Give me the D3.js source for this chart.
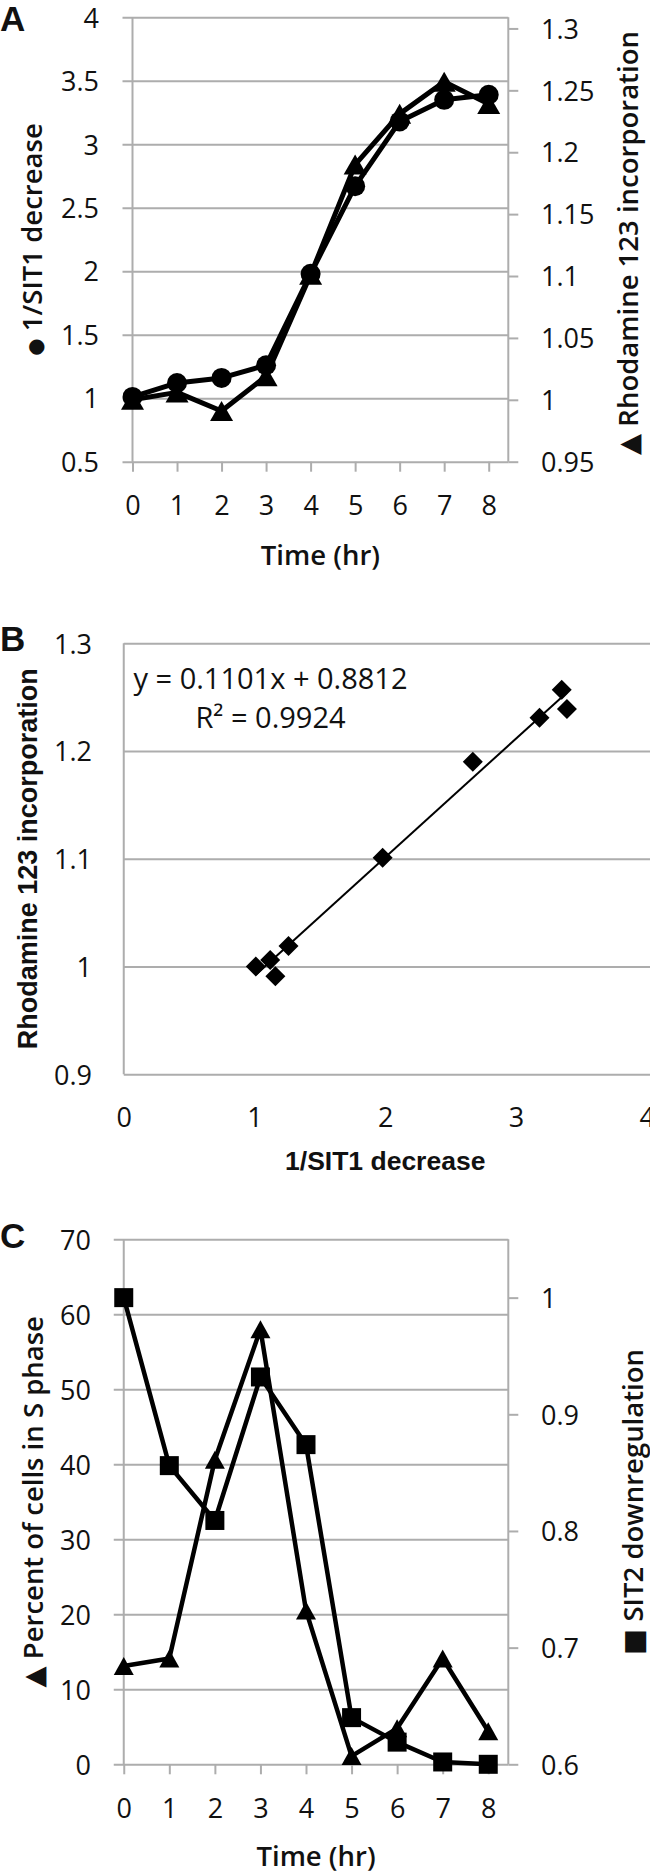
<!DOCTYPE html>
<html>
<head>
<meta charset="utf-8">
<script src="https://cdn.jsdelivr.net/npm/d3@7"></script>
<style>
  html, body { margin: 0; padding: 0; background: #fff; }
  svg { display: block; }
</style>
</head>
<body>
<svg id="chart" width="650" height="1873"></svg>
<script>
// ---------------- DATA ----------------
const times = [0, 1, 2, 3, 4, 5, 6, 7, 8];
const sit1Decrease = [1.01, 1.12, 1.16, 1.26, 1.98, 2.67, 3.18, 3.35, 3.39];   // panel A, circles (left axis)
const rhodamine    = [1.0, 1.006, 0.991, 1.019, 1.101, 1.19, 1.231, 1.257, 1.239]; // panel A, triangles (right axis)
const sPhasePercent = [13.1, 14.1, 40.6, 58, 20.5, 1.1, 4.8, 14.1, 4.4];      // panel C, triangles (left axis)
const sit2Down      = [1.0, 0.856, 0.809, 0.932, 0.874, 0.640, 0.619, 0.602, 0.600]; // panel C, squares (right axis)
const trendSlope = 0.1101;
const trendIntercept = 0.8812;
const trendR2 = 0.9924;

// tick labels
const aLeftTicks  = [0.5, 1, 1.5, 2, 2.5, 3, 3.5, 4];
const aRightTicks = [0.95, 1, 1.05, 1.1, 1.15, 1.2, 1.25, 1.3];
const bYTicks = [0.9, 1, 1.1, 1.2, 1.3];
const bXTicks = [0, 1, 2, 3, 4];
const cLeftTicks  = [0, 10, 20, 30, 40, 50, 60, 70];
const cRightTicks = [0.6, 0.7, 0.8, 0.9, 1];

// texts
const panelLabels = ["A", "B", "C"];
const aLeftMarker = "\u25CF";
const aLeftTitle = " 1/SIT1 decrease";
const aRightTitle = "\u25B2 Rhodamine 123 incorporation";
const timeTitle = "Time (hr)";
const bXTitle = "1/SIT1 decrease";
const bYTitle = "Rhodamine 123 incorporation";
const cLeftTitle = "\u25B2 Percent of cells in S phase";
const cRightTitle = "\u25A0 SIT2 downregulation";

// ---------------- STYLE ----------------
const FONT = "'Open Sans', 'Noto Sans', 'DejaVu Sans', sans-serif";
const ARIAL = "'Liberation Sans', Arial, sans-serif";
const GRID = "#adadad";
const INK = "#111";

const svg = d3.select("#chart");
svg.append("rect").attr("width", 650).attr("height", 1873).attr("fill", "#fff");

// custom symbols (Excel-like markers centred on their bounding box)
function triSymbol(w, h) {
  return { draw(ctx) { ctx.moveTo(0, -h / 2); ctx.lineTo(w / 2, h / 2); ctx.lineTo(-w / 2, h / 2); ctx.closePath(); } };
}
function diamondSymbol(w, h) {
  return { draw(ctx) { ctx.moveTo(0, -h / 2); ctx.lineTo(w / 2, 0); ctx.lineTo(0, h / 2); ctx.lineTo(-w / 2, 0); ctx.closePath(); } };
}

function leftGrid(y, ticks, xPlotLeft, xPlotRight, ext, labelEnd) {
  const ax = d3.axisLeft(y).tickValues(ticks)
    .tickSizeInner(xPlotRight - xPlotLeft + ext).tickSizeOuter(0)
    .tickPadding(xPlotLeft - ext - labelEnd)
    .tickFormat(d => String(d));
  const g = svg.append("g").attr("transform", `translate(${xPlotRight},0)`).call(ax);
  g.select(".domain").remove();
  g.selectAll("line").attr("stroke", GRID).attr("stroke-width", 2);
  g.selectAll("text").attr("font-family", FONT).attr("font-size", 27).attr("fill", INK).attr("dy", "0.36em");
  return g;
}
function rightAxis(y, ticks, xPlotRight, labelStart) {
  const ax = d3.axisRight(y).tickValues(ticks).tickSizeInner(10).tickSizeOuter(0)
    .tickPadding(labelStart - xPlotRight - 10).tickFormat(d => String(d));
  const g = svg.append("g").attr("transform", `translate(${xPlotRight},0)`).call(ax);
  g.select(".domain").remove();
  g.selectAll("line").attr("stroke", GRID).attr("stroke-width", 2);
  g.selectAll("text").attr("font-family", FONT).attr("font-size", 27).attr("fill", INK).attr("dy", "0.36em");
  return g;
}
function bottomAxis(x, ticks, yAxis, tickLen, labelBaseline) {
  const ax = d3.axisBottom(x).tickValues(ticks).tickSizeInner(tickLen).tickSizeOuter(0).tickFormat(d => String(d));
  const g = svg.append("g").attr("transform", `translate(0,${yAxis})`).call(ax);
  g.select(".domain").remove();
  g.selectAll("line").attr("stroke", GRID).attr("stroke-width", 2);
  g.selectAll("text").attr("font-family", FONT).attr("font-size", 27).attr("fill", INK)
    .attr("y", labelBaseline - yAxis).attr("dy", null);
  return g;
}
function vLine(x, y0, y1) {
  svg.append("line").attr("x1", x).attr("x2", x).attr("y1", y0).attr("y2", y1)
    .attr("stroke", GRID).attr("stroke-width", 2);
}
function rotTitle(text, xBase, yCenter, font, size, weight) {
  return svg.append("text").attr("transform", `translate(${xBase},${yCenter}) rotate(-90)`)
    .attr("text-anchor", "middle").attr("font-family", font).attr("font-size", size)
    .attr("font-weight", weight).attr("fill", INK).text(text);
}
function panelLabel(text, baseline) {
  svg.append("text").attr("x", 0).attr("y", baseline).attr("font-family", ARIAL)
    .attr("font-size", 35).attr("font-weight", "bold").attr("fill", INK).text(text);
}

// ================= PANEL A =================
{
  const x = d3.scaleLinear().domain([0, 8.44]).range([132.5, 508.3]);
  const yL = d3.scaleLinear().domain([0.5, 4]).range([461.7, 17.3]);
  const yR = d3.scaleLinear().domain([0.95, 1.309]).range([461.7, 17.3]);
  const [xl, xr] = x.range();

  leftGrid(yL, aLeftTicks, xl, xr, 10, 99);
  vLine(xl, yL.range()[1], yL.range()[0]);
  vLine(xr, yL.range()[1], yL.range()[0]);
  rightAxis(yR, aRightTicks, xr, 541);
  bottomAxis(x, times, yL.range()[0], 10, 515);

  const ptsL = times.map((t, i) => [x(t), yL(sit1Decrease[i])]);
  const ptsR = times.map((t, i) => [x(t), yR(rhodamine[i])]);
  const line = d3.line();
  svg.append("path").attr("d", line(ptsR)).attr("fill", "none").attr("stroke", "#000").attr("stroke-width", 5).attr("stroke-linejoin", "round");
  svg.append("path").attr("d", line(ptsL)).attr("fill", "none").attr("stroke", "#000").attr("stroke-width", 5).attr("stroke-linejoin", "round");
  const tri = d3.symbol().type(triSymbol(23, 20));
  svg.append("g").selectAll("path").data(ptsR).join("path")
    .attr("d", tri()).attr("transform", d => `translate(${d[0]},${d[1]})`).attr("fill", "#000");
  svg.append("g").selectAll("circle").data(ptsL).join("circle")
    .attr("cx", d => d[0]).attr("cy", d => d[1]).attr("r", 10).attr("fill", "#000");

  const t = rotTitle("", 42, (yL.range()[0] + yL.range()[1]) / 2, FONT, 27.5, 600);
  t.append("tspan").attr("font-family", "'DejaVu Sans', sans-serif").attr("font-size", 20).text(aLeftMarker);
  t.append("tspan").text(aLeftTitle);
  rotTitle(aRightTitle, 638, 243, FONT, 27.5, 600);
  svg.append("text").attr("x", (xl + xr) / 2).attr("y", 565).attr("text-anchor", "middle")
    .attr("font-family", FONT).attr("font-size", 27.5).attr("font-weight", 600).attr("fill", INK).text(timeTitle);
  panelLabel(panelLabels[0], 31);
}

// ================= PANEL B =================
{
  const x = d3.scaleLinear().domain([0, 4]).range([123.75, 646.7]);
  const y = d3.scaleLinear().domain([0.9, 1.3]).range([1074.3, 643.3]);
  const [xl, xr] = x.range();

  leftGrid(y, bYTicks, xl, 650, 0, 92).selectAll("line").attr("x2", -(650 - xl));
  vLine(xl, y.range()[1], y.range()[0]);
  bottomAxis(x, bXTicks, y.range()[0], 0, 1127).selectAll("line").remove();

  const pts = sit1Decrease.map((v, i) => [x(v), y(rhodamine[i])]);
  const xmin = d3.min(sit1Decrease), xmax = d3.max(sit1Decrease);
  svg.append("line")
    .attr("x1", x(xmin)).attr("y1", y(trendSlope * xmin + trendIntercept))
    .attr("x2", x(xmax)).attr("y2", y(trendSlope * xmax + trendIntercept))
    .attr("stroke", "#000").attr("stroke-width", 2);
  const dia = d3.symbol().type(diamondSymbol(20, 20));
  svg.append("g").selectAll("path").data(pts).join("path")
    .attr("d", dia()).attr("transform", d => `translate(${d[0]},${d[1]})`).attr("fill", "#000");

  svg.append("text").attr("x", 270.5).attr("y", 689).attr("text-anchor", "middle")
    .attr("font-family", FONT).attr("font-size", 29).attr("fill", INK)
    .text(`y = ${trendSlope}x + ${trendIntercept}`);
  svg.append("text").attr("x", 270.5).attr("y", 728).attr("text-anchor", "middle")
    .attr("font-family", FONT).attr("font-size", 29).attr("fill", INK)
    .text(`R\u00B2 = ${trendR2}`);

  svg.append("text").attr("x", (xl + xr) / 2).attr("y", 1170).attr("text-anchor", "middle")
    .attr("font-family", ARIAL).attr("font-size", 26.5).attr("font-weight", "bold").attr("fill", INK).text(bXTitle);
  rotTitle(bYTitle, 37, (y.range()[0] + y.range()[1]) / 2, ARIAL, 27, "bold");
  panelLabel(panelLabels[1], 651);
}

// ================= PANEL C =================
{
  const x = d3.scaleLinear().domain([0, 8.44]).range([123.75, 508.3]);
  const yL = d3.scaleLinear().domain([0, 70]).range([1764.3, 1239.3]);
  const yR = d3.scaleLinear().domain([0.6, 1.05]).range([1764.3, 1239.3]);
  const [xl, xr] = x.range();

  leftGrid(yL, cLeftTicks, xl, xr, 10, 91);
  vLine(xl, yL.range()[1], yL.range()[0]);
  vLine(xr, yL.range()[1], yL.range()[0]);
  rightAxis(yR, cRightTicks, xr, 541);
  bottomAxis(x, times, yL.range()[0], 10, 1818);

  const ptsL = times.map((t, i) => [x(t), yL(sPhasePercent[i])]);
  const ptsR = times.map((t, i) => [x(t), yR(sit2Down[i])]);
  const line = d3.line();
  svg.append("path").attr("d", line(ptsL)).attr("fill", "none").attr("stroke", "#000").attr("stroke-width", 4.5).attr("stroke-linejoin", "round");
  svg.append("path").attr("d", line(ptsR)).attr("fill", "none").attr("stroke", "#000").attr("stroke-width", 4.5).attr("stroke-linejoin", "round");
  const tri = d3.symbol().type(triSymbol(20, 18));
  svg.append("g").selectAll("path").data(ptsL).join("path")
    .attr("d", tri()).attr("transform", d => `translate(${d[0]},${d[1]})`).attr("fill", "#000");
  const sq = d3.symbol().type(d3.symbolSquare).size(19 * 19);
  svg.append("g").selectAll("path").data(ptsR).join("path")
    .attr("d", sq()).attr("transform", d => `translate(${d[0]},${d[1]})`).attr("fill", "#000");

  rotTitle(cLeftTitle, 43, (yL.range()[0] + yL.range()[1]) / 2, FONT, 27.5, 600);
  rotTitle(cRightTitle, 643, (yL.range()[0] + yL.range()[1]) / 2, FONT, 27.5, 600);
  svg.append("text").attr("x", (xl + xr) / 2).attr("y", 1866).attr("text-anchor", "middle")
    .attr("font-family", FONT).attr("font-size", 27.5).attr("font-weight", 600).attr("fill", INK).text(timeTitle);
  panelLabel(panelLabels[2], 1248);
}
</script>
</body>
</html>
